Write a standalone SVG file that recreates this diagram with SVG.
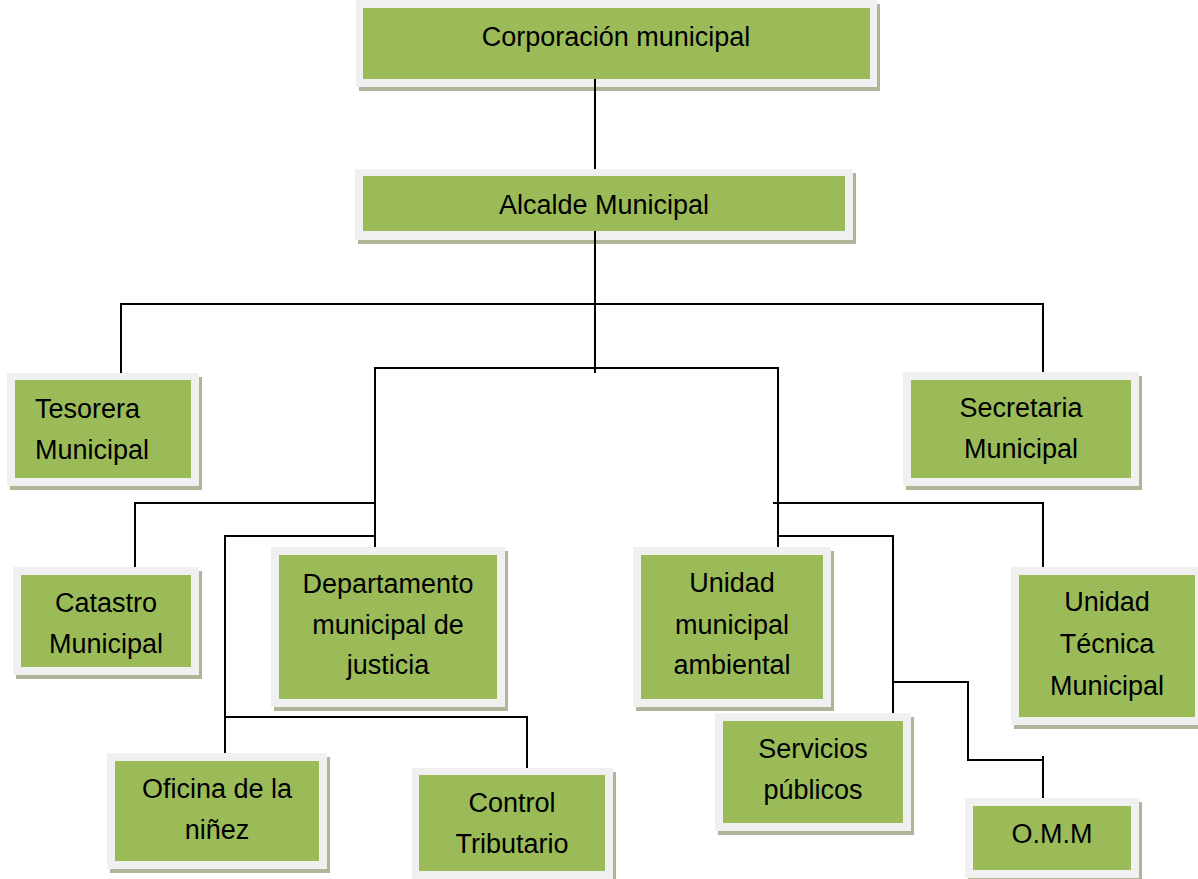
<svg xmlns="http://www.w3.org/2000/svg" width="1198" height="879" viewBox="0 0 1198 879">
<defs>
<style>
.sh{fill:#aeb697}
.fr{fill:#f0f0f0}
.gr{fill:#9bbb59}
.t{font-family:"Liberation Sans",Arial,sans-serif;font-size:27px;fill:#000;text-anchor:middle}
.tl{text-anchor:start}
#connectors line{stroke:#000;stroke-width:2;stroke-linecap:square}
</style>
</defs>
<rect width="1198" height="879" fill="#fff"/>
<g id="corporacion">
<rect class="sh" x="359" y="4" width="521" height="87"/>
<rect class="fr" x="356" y="0" width="521" height="87"/>
<rect class="gr" x="363" y="8" width="507" height="71"/>
<text class="t" x="616" y="46">Corporación municipal</text>
</g>
<g id="alcalde">
<rect class="sh" x="358" y="173" width="498" height="71"/>
<rect class="fr" x="355" y="169" width="498" height="71"/>
<rect class="gr" x="363" y="176" width="482" height="55"/>
<text class="t" x="604" y="214">Alcalde Municipal</text>
</g>
<g id="tesorera">
<rect class="sh" x="10" y="377" width="192" height="113"/>
<rect class="fr" x="7" y="373" width="192" height="113"/>
<rect class="gr" x="15" y="380" width="176" height="98"/>
<text class="t tl" x="35" y="418">Tesorera</text>
<text class="t tl" x="35" y="459">Municipal</text>
</g>
<g id="secretaria">
<rect class="sh" x="906" y="376" width="236" height="114"/>
<rect class="fr" x="903" y="372" width="236" height="114"/>
<rect class="gr" x="911" y="380" width="220" height="98"/>
<text class="t" x="1021" y="417">Secretaria</text>
<text class="t" x="1021" y="458">Municipal</text>
</g>
<g id="catastro">
<rect class="sh" x="16" y="571" width="186" height="108"/>
<rect class="fr" x="13" y="567" width="186" height="108"/>
<rect class="gr" x="21" y="575" width="170" height="92"/>
<text class="t" x="106" y="612">Catastro</text>
<text class="t" x="106" y="653">Municipal</text>
</g>
<g id="departamento">
<rect class="sh" x="274" y="551" width="234" height="160"/>
<rect class="fr" x="271" y="547" width="234" height="160"/>
<rect class="gr" x="279" y="555" width="218" height="144"/>
<text class="t" x="388" y="593">Departamento</text>
<text class="t" x="388" y="634">municipal de</text>
<text class="t" x="388" y="674">justicia</text>
</g>
<g id="ambiental">
<rect class="sh" x="636" y="551" width="198" height="160"/>
<rect class="fr" x="633" y="547" width="198" height="160"/>
<rect class="gr" x="641" y="555" width="182" height="144"/>
<text class="t" x="732" y="592">Unidad</text>
<text class="t" x="732" y="634">municipal</text>
<text class="t" x="732" y="674">ambiental</text>
</g>
<g id="tecnica">
<rect class="sh" x="1014" y="571" width="190" height="158"/>
<rect class="fr" x="1011" y="567" width="190" height="158"/>
<rect class="gr" x="1019" y="575" width="176" height="142"/>
<text class="t" x="1107" y="611">Unidad</text>
<text class="t" x="1107" y="653">Técnica</text>
<text class="t" x="1107" y="695">Municipal</text>
</g>
<g id="oficina">
<rect class="sh" x="110" y="757" width="220" height="116"/>
<rect class="fr" x="107" y="753" width="220" height="116"/>
<rect class="gr" x="115" y="761" width="204" height="100"/>
<text class="t" x="217" y="798">Oficina de la</text>
<text class="t" x="217" y="839">niñez</text>
</g>
<g id="control">
<rect class="sh" x="415" y="772" width="201" height="112"/>
<rect class="fr" x="412" y="768" width="201" height="112"/>
<rect class="gr" x="419" y="775" width="186" height="96"/>
<text class="t" x="512" y="812">Control</text>
<text class="t" x="512" y="853">Tributario</text>
</g>
<g id="servicios">
<rect class="sh" x="718" y="717" width="196" height="118"/>
<rect class="fr" x="715" y="713" width="196" height="118"/>
<rect class="gr" x="723" y="721" width="180" height="102"/>
<text class="t" x="813" y="758">Servicios</text>
<text class="t" x="813" y="799">públicos</text>
</g>
<g id="omm">
<rect class="sh" x="968" y="802" width="174" height="80"/>
<rect class="fr" x="965" y="798" width="174" height="80"/>
<rect class="gr" x="973" y="806" width="158" height="64"/>
<text class="t" x="1052" y="843">O.M.M</text>
</g>
<g id="connectors">
<line x1="595" y1="80" x2="595" y2="168"/>
<line x1="595" y1="232" x2="595" y2="372"/>
<line x1="121" y1="304" x2="1043" y2="304"/>
<line x1="121" y1="304" x2="121" y2="372"/>
<line x1="1043" y1="304" x2="1043" y2="371"/>
<line x1="375" y1="368" x2="778" y2="368"/>
<line x1="375" y1="368" x2="375" y2="546"/>
<line x1="135" y1="503" x2="375" y2="503"/>
<line x1="135" y1="503" x2="135" y2="566"/>
<line x1="225" y1="536" x2="375" y2="536"/>
<line x1="225" y1="536" x2="225" y2="752"/>
<line x1="225" y1="717" x2="527" y2="717"/>
<line x1="527" y1="717" x2="527" y2="767"/>
<line x1="778" y1="368" x2="778" y2="546"/>
<line x1="774" y1="503" x2="1043" y2="503"/>
<line x1="1043" y1="503" x2="1043" y2="566"/>
<line x1="778" y1="536" x2="893" y2="536"/>
<line x1="893" y1="536" x2="893" y2="712"/>
<line x1="893" y1="682" x2="968" y2="682"/>
<line x1="968" y1="682" x2="968" y2="760"/>
<line x1="968" y1="760" x2="1043" y2="760"/>
<line x1="1043" y1="757" x2="1043" y2="797"/>
</g>
</svg>
